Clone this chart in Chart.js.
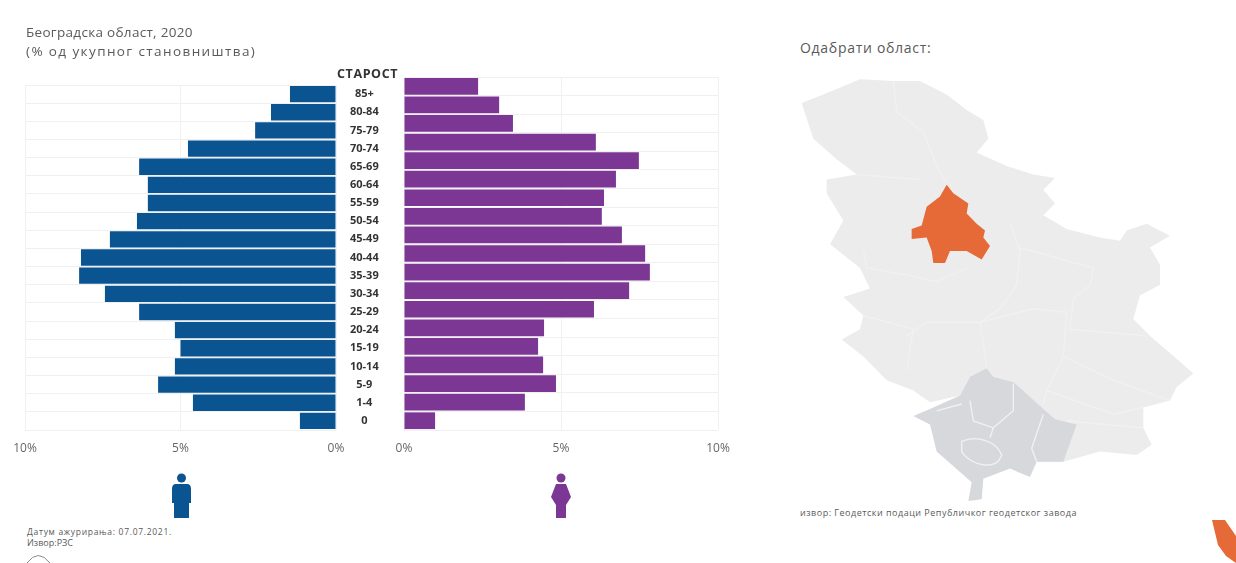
<!DOCTYPE html>
<html lang="sr"><head><meta charset="utf-8">
<script src="https://cdn.jsdelivr.net/npm/chart.js@4"></script>
<style>
html,body{margin:0;padding:0;background:#fff;width:1236px;height:563px;overflow:hidden;font-family:"Open Sans",sans-serif}
.t{position:absolute;white-space:nowrap;color:#5a5a5a}
canvas{position:absolute;top:0}
svg{position:absolute;left:0;top:0}
</style></head><body>
<svg width="1236" height="563" viewBox="0 0 1236 563">
  <g transform="translate(780,30) scale(0.33333,0.34)">
    <path fill="#ececec" d="M65 215L130 190L240 145L340 150L420 150L500 190L560 235L610 265L625 320L590 360L680 400L760 425L825 435L790 470L825 510L790 545L860 585L960 610L1020 620L1040 590L1100 570L1170 605L1110 640L1140 690L1140 750L1080 780L1060 850L1110 900L1170 950L1240 1010L1190 1050L1170 1090L1090 1110L1090 1170L1115 1220L1070 1250L960 1240L850 1270L770 1270L700 1035L640 1020L620 995L570 1020L540 1075L450 1095L400 1060L320 1030L250 960L185 910L240 880L250 840L190 785L270 760L240 700L150 630L190 560L140 480L140 440L230 425L170 380L100 320Z"/>
    <path fill="#d6d8dc" d="M620 995L570 1020L540 1075L450 1115L400 1135L450 1160L470 1240L540 1300L575 1330L565 1385L605 1380L610 1320L690 1290L750 1315L770 1270L850 1270L890 1160L825 1145L785 1110L700 1035L640 1020Z"/>
    <g fill="none" stroke="#f1f1f1" stroke-width="4">
      <path d="M340 150L350 240L430 300L470 400L500 450"/>
      <path d="M230 425L420 440"/>
      <path d="M250 650L260 700L380 720L470 740L560 700"/>
      <path d="M690 570L720 650L710 750L660 820L600 860L620 990"/>
      <path d="M380 900L440 860L600 860L760 820L860 830L850 960L800 1060L790 1100"/>
      <path d="M720 640L940 700L930 750L880 790L870 880L1100 900"/>
      <path d="M850 960L1000 1030L1170 1090"/>
      <path d="M800 1060L1000 1130L1090 1110"/>
      <path d="M860 1150L1090 1170"/>
      <path d="M250 840L400 880L380 1000"/>
      <path d="M570 1090L580 1150L640 1170L700 1120L700 1040"/>
      <path d="M545 1100L470 1120M640 1170L630 1200"/>
      <path d="M545 1210C590 1190 650 1210 665 1250C650 1300 570 1280 545 1240Z"/>
      <path d="M790 1130L755 1230L770 1270"/>
    </g>
    <path fill="#e56a38" d="M500 455L520 480L565 510L560 540L590 570L615 590L610 610L630 635L605 675L560 650L510 650L495 685L460 685L455 650L440 610L395 615L395 585L425 575L440 520L480 490Z"/>
  </g>
  <path fill="#e56a38" d="M1212 520L1225 520L1236 536L1236 563L1226 556L1218 545Z"/>
  <g fill="#0a5492">
    <circle cx="181.500" cy="478" r="4.500"/>
    <path d="M176 484H187Q191 484 191 489V503H189V518H174V503H172V489Q172 484 176 484Z"/>
  </g>
  <g fill="#7b3793">
    <circle cx="561" cy="478" r="4.500"/>
    <path d="M556 484H566L571 497L566 505V518H556V505L551 497Z"/>
  </g>
  <path fill="none" stroke="#8a8a8a" stroke-width="1" d="M27 563Q38 548 50 563"/>
</svg>
<canvas id="left" width="400" height="470" style="left:0;width:400px;height:470px"></canvas>
<canvas id="right" width="380" height="470" style="left:380px;width:380px;height:470px"></canvas>
<div class="t" style="left:26px;top:23px;font-size:13.500px;letter-spacing:.3px">Београдска област, 2020</div>
<div class="t" style="left:26px;top:42px;font-size:13.500px;letter-spacing:1.400px">(% од укупног становништва)</div>
<div class="t" style="left:337px;top:65px;font-size:12.500px;font-weight:700;color:#333;letter-spacing:.6px">СТАРОСТ</div>
<div class="t" style="left:800px;top:38px;font-size:14px;letter-spacing:.7px">Одабрати област:</div>
<div class="t" style="left:800px;top:506px;font-size:9px;letter-spacing:.5px">извор: Геодетски подаци Републичког геодетског завода</div>
<div class="t" style="left:27px;top:526px;font-size:8.500px;letter-spacing:.7px">Датум ажурирања: 07.07.2021.</div>
<div class="t" style="left:27px;top:536px;font-size:9px">Извор:РЗС</div>
<script>
const ageGroups = ["85+","80-84","75-79","70-74","65-69","60-64","55-59","50-54","45-49","40-44","35-39","30-34","25-29","20-24","15-19","10-14","5-9","1-4","0"];
const maleShare = [1.48,2.09,2.6,4.76,6.33,6.05,6.05,6.4,7.27,8.2,8.26,7.43,6.33,5.18,5.0,5.18,5.72,4.6,1.16];
const femaleShare = [2.36,3.03,3.47,6.11,7.48,6.75,6.37,6.3,6.94,7.68,7.83,7.17,6.05,4.46,4.27,4.43,4.84,3.85,0.99];
const axisTicks = [0,5,10];
const maleColor = "#0a5492", femaleColor = "#7b3793", gridColor = "#f0f0f0";

function xAxis(reverse){
  return {
    type:"linear", min:0, max:10, reverse,
    afterBuildTicks(s){ s.ticks = axisTicks.map(v=>({value:v})); },
    grid:{color:gridColor, drawTicks:false},
    border:{display:false},
    ticks:{callback:v=>v+"%", color:"#666", padding:11, maxRotation:0,
           font:{family:"Open Sans", size:12}},
    afterFit(s){ s.height = 40; }
  };
}
function pyramid(id, values, color, reverse, yAxis, padding){
  return new Chart(document.getElementById(id), {
    type:"bar",
    data:{labels:ageGroups, datasets:[{data:values, backgroundColor:color,
      barPercentage:0.9, categoryPercentage:1}]},
    options:{
      indexAxis:"y", responsive:false, animation:false,
      layout:{padding},
      plugins:{legend:{display:false}, tooltip:{enabled:false}},
      scales:{x:xAxis(reverse), y:yAxis}
    }
  });
}
pyramid("left", maleShare, maleColor, true, {
  position:"right",
  grid:{color:gridColor, drawTicks:false},
  border:{display:false},
  ticks:{color:"#333", padding:14, autoSkip:false, align:"center",
         font:{family:"Open Sans", size:11, weight:"700"},
         crossAlign:"center"},
  afterFit(s){ s.width = 64; }
}, {left:25, right:0, top:85, bottom:0});
pyramid("right", femaleShare, femaleColor, false, {
  position:"left",
  grid:{color:gridColor, drawTicks:false},
  border:{display:false},
  ticks:{display:false},
  afterFit(s){ s.width = 0; }
}, {left:24, right:42, top:77, bottom:0});
</script>
</body></html>
